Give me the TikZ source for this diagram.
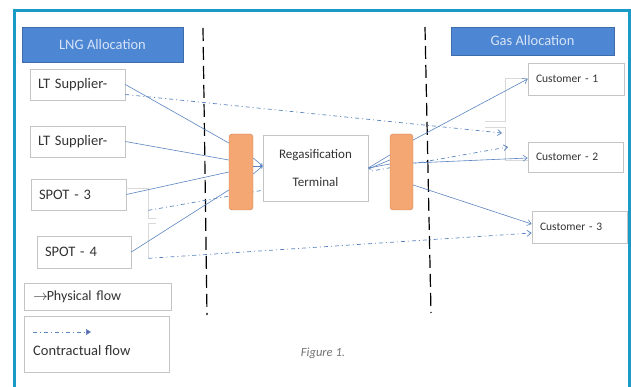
\documentclass[tikz,border=0pt]{standalone}
\usepackage{fontspec}
\setmainfont{Carlito}
\usetikzlibrary{arrows.meta}
\definecolor{frameblue}{HTML}{1A9AC4}
\definecolor{headblue}{HTML}{4D86D3}
\definecolor{headtext}{HTML}{D6E4F7}
\definecolor{flowblue}{HTML}{5A84C0}
\definecolor{barorange}{HTML}{F4A673}
\definecolor{bardraw}{HTML}{C98552}
\definecolor{boxgray}{HTML}{C4C4C4}
\definecolor{textgray}{HTML}{333333}
\begin{document}
\begin{tikzpicture}[x=1pt,y=-1pt,
    box/.style={draw=boxgray,fill=white,line width=0.7pt,minimum height=31pt,inner xsep=8pt,align=left,text=textgray,font=\fontsize{14.5}{16}\selectfont},
    custbox/.style={box,minimum height=31pt,font=\fontsize{11.5}{13}\selectfont},
    header/.style={draw=headblue!80!black,fill=headblue,text=headtext,font=\fontsize{14.5}{16}\selectfont},
    bar/.style={draw=bardraw,fill=barorange,rounded corners=3pt,minimum width=24pt,minimum height=76pt},
    phys/.style={flowblue,line width=0.6pt},
    contr/.style={flowblue,line width=0.7pt,dash pattern=on 4pt off 3pt on 1pt off 3pt},
    tip/.style={-{Straight Barb[length=4pt,width=6pt]}},
    bracket/.style={black!15,line width=0.6pt},
    divider/.style={black,line width=1.2pt,dash pattern=on 13pt off 6pt}]
\useasboundingbox (0,0) rectangle (631,387);
% frame
\draw[frameblue,line width=3pt] (14,387) -- (14,11) -- (629,11) -- (629,387);
% boundaries
\draw[divider] (203,28) -- (207,315);
\draw[divider] (425,27) -- (431,313);
% headers
\node[header,minimum width=161pt,minimum height=35pt] (lng) at (102.5,44.5) {LNG Allocation};
\node[header,minimum width=163pt,minimum height=28pt] (gas) at (532.5,41) {Gas Allocation};
% suppliers
\node[box,text width=79pt] (lt1) at (77.5,84.5) {LT Supplier-};
\node[box,text width=79pt] (lt2) at (77.5,141.5) {LT Supplier-};
\node[box,text width=79pt] (spot3) at (78.5,194.5) {SPOT - 3};
\node[box,text width=78pt,minimum height=32pt] (spot4) at (84,252) {SPOT - 4};
% customers
\node[custbox,text width=80pt,minimum height=32pt] (cust1) at (576,79) {Customer - 1};
\node[custbox,text width=79pt,minimum height=30pt] (cust2) at (575.5,157) {Customer - 2};
\node[custbox,text width=79pt,minimum height=32pt] (cust3) at (579.5,227) {Customer - 3};
% faint brackets
\draw[bracket] ([yshift=6.5pt]spot3.east) -| (148,218) -- (156,218);
\draw[bracket] (156,223) -- (148,223) -- (148,258);
\draw[bracket] ([yshift=1pt]cust1.west) -| (505,121) -- (485,121);
\draw[bracket] (485,127) -| (505,160) -- ([yshift=-3pt]cust2.west);
% contractual flow
\coordinate (c1) at (502,133);
\coordinate (c2) at (508,147);
\draw[contr,tip] ([yshift=-10pt]lt1.east) -- (c1);
\draw[contr,tip] ([xshift=22pt]spot3.south east) -- (c2);
\draw[contr,tip] ([xshift=17pt,yshift=10pt]spot4.south east) -- ([yshift=-6pt]cust3.west);
% terminal
\node[bar] (barL) at (241,172) {};
\node[bar,minimum width=23pt] (barR) at (401.5,172) {};
\node[box,text width=89pt,minimum height=66pt,align=center,font=\fontsize{13}{28}\selectfont] (regas) at (315.5,168) {Regasification\\Terminal};
% physical flow
\draw[phys] (lt1.east) -- ([yshift=29pt]barL.west);
\draw[phys] (lt2.east) -- ([yshift=12pt]barL.west);
\draw[phys] (spot3.east) -- (barL.west);
\draw[phys] (spot4.east) -- ([yshift=-18pt]barL.west);
\foreach \s in {14,6,-2}
  \draw[phys,-{Straight Barb[length=2pt,width=3pt]}] ([yshift=\s pt]barL.east) -- ([yshift=2pt]regas.west);
\foreach \s in {17,8}
  \draw[phys] (regas.east) -- ([yshift=\s pt]barR.west);
\draw[phys,-{Straight Barb[length=2pt,width=3pt]}] ([yshift=12pt]barR.west) -- ([yshift=-1pt]regas.east);
\draw[phys,tip] ([yshift=32pt]barR.east) -- (cust1.west);
\draw[phys,tip] ([yshift=9pt]barR.east) -- ([yshift=-1pt]cust2.west);
\draw[phys,tip] ([yshift=-13pt]barR.east) -- ([yshift=3pt]cust3.west);
% legend
\node[box,minimum width=145pt,minimum height=27pt,anchor=north west,text width=129pt,inner xsep=9pt,font=\fontsize{14}{16}\selectfont] (legphys) at (24,283) {$\rightarrow$\kern-1pt Physical flow};
\node[box,minimum width=145pt,minimum height=56pt,anchor=north west] (legcontr) at (24,316) {};
\coordinate (l1) at (33,332);
\coordinate (l2) at (91,332);
\draw[contr,line width=0.6pt,-{Triangle[length=5pt,width=6pt,fill=flowblue!70!violet]}] (l1) -- (l2);
\node[anchor=west,text=textgray,font=\fontsize{14.5}{16}\selectfont,inner sep=0pt] (contrtxt) at (33,351) {Contractual flow};
\node[text=black!55,font=\fontsize{12.5}{14}\itshape] (fig) at (323,353) {Figure 1.};
\end{tikzpicture}
\end{document}
